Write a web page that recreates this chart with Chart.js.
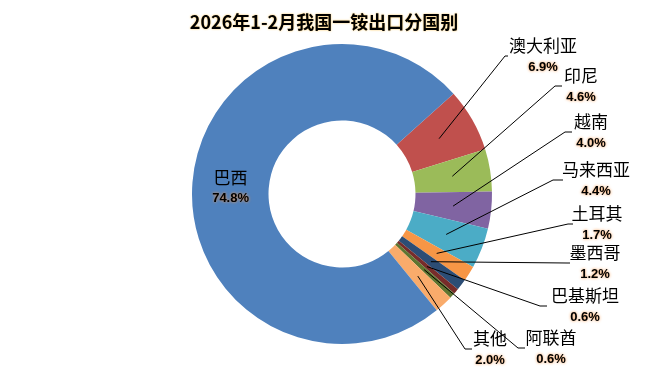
<!DOCTYPE html>
<html>
<head>
<meta charset="utf-8">
<script src="https://cdn.jsdelivr.net/npm/chart.js@4.4.1/dist/chart.umd.min.js"></script>
<style>
  body { margin: 0; background: #fff; }
  #wrap { width: 659px; height: 378px; position: relative; }
</style>
</head>
<body>
<div id="wrap"><canvas id="fenguo"></canvas></div>
<script>
// 数据（顺时针，从澳大利亚开始）
var chartTitle = "2026年1-2月我国一铵出口分国别";
var guojia = ["澳大利亚", "印尼", "越南", "马来西亚", "土耳其", "墨西哥", "巴基斯坦", "阿联酋", "其他", "巴西"];
var zhanbi = [6.9, 4.6, 4.0, 4.4, 1.7, 1.2, 0.6, 0.6, 2.0, 74.8];

var yanse = ["#C0504D", "#9BBB59", "#8064A2", "#4BACC6", "#F79646", "#2C4D75", "#772C2A", "#5F7530", "#F9AB6B", "#4F81BD"];

// 标签位置（相对圆心）：tx 文字中心x, ty 中线y, ex 折点x, lx 引线终点x；null 表示放在扇区内
var biaoqian = [
  {tx: 201, ty: -138, ex: 163, lx: 166},
  {tx: 239, ty: -108, ex: 213, lx: 220},
  {tx: 249, ty: -62, ex: 223, lx: 230},
  {tx: 254, ty: -14, ex: 211, lx: 221},
  {tx: 255, ty: 30, ex: 226, lx: 231},
  {tx: 253, ty: 69, ex: 225, lx: 228},
  {tx: 243, ty: 112, ex: 198, lx: 205},
  {tx: 209, ty: 154, ex: 176, lx: 183},
  {tx: 148, ty: 155, ex: 123, lx: 130},
  null
];

var labelPlugin = {
  id: "labelPlugin",
  afterDraw: function(chart) {
    var ctx = chart.ctx;
    var meta = chart.getDatasetMeta(0);
    var cx = meta.data[0].x, cy = meta.data[0].y;

    ctx.save();
    // 标题
    ctx.font = "bold 18px 'Noto Sans CJK SC'";
    ctx.textAlign = "center";
    ctx.textBaseline = "middle";
    ctx.shadowColor = "rgba(255,190,60,0.9)";
    ctx.shadowBlur = 2;
    ctx.fillStyle = "#000";
    ctx.fillText(chartTitle, 324, 22);
    ctx.restore();

    for (var i = 0; i < meta.data.length; i++) {
      var arc = meta.data[i];
      var p = arc.tooltipPosition();
      var b = biaoqian[i];
      var tx, ty;
      if (b) {
        tx = cx + b.tx; ty = cy + b.ty;
        ctx.save();
        ctx.strokeStyle = "#000";
        ctx.lineWidth = 1;
        ctx.beginPath();
        ctx.moveTo(p.x, p.y);
        ctx.lineTo(cx + b.ex, ty);
        ctx.lineTo(cx + b.lx, ty);
        ctx.stroke();
        ctx.restore();
      } else {
        tx = p.x; ty = p.y + 2;
      }
      ctx.save();
      ctx.textAlign = "center";
      ctx.textBaseline = "middle";
      ctx.fillStyle = "#000";
      ctx.font = "17px 'Noto Sans CJK SC'";
      ctx.fillText(guojia[i], tx, ty - 10);
      ctx.font = "bold 13px 'Liberation Sans'";
      ctx.shadowColor = "rgba(247,150,70,1)";
      ctx.shadowBlur = 3;
      ctx.fillText(zhanbi[i].toFixed(1) + "%", tx, ty + 11);
      ctx.restore();
    }
  }
};

var ctx = document.getElementById("fenguo");
var chart = new Chart(ctx, {
  type: "doughnut",
  data: {
    labels: guojia,
    datasets: [{
      data: zhanbi,
      backgroundColor: yanse,
      borderWidth: 0
    }]
  },
  options: {
    responsive: true,
    maintainAspectRatio: false,
    animation: false,
    rotation: 48,
    cutout: "49%",
    layout: { padding: { top: 44, bottom: 34, left: 192, right: 167 } },
    plugins: {
      legend: { display: false },
      tooltip: { enabled: false },
      title: { display: false }
    }
  },
  plugins: [labelPlugin]
});
</script>
</body>
</html>
